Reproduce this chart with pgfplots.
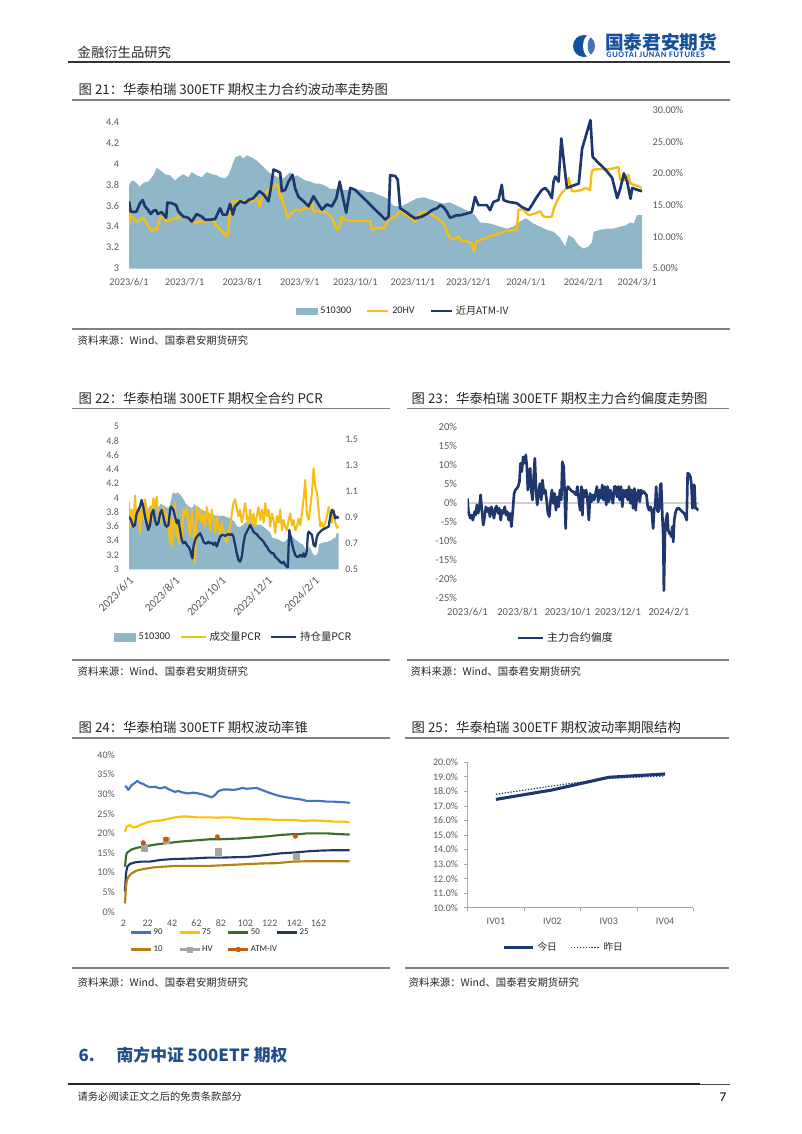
\documentclass[border=0pt]{standalone}
\usepackage{fontspec}
\setmainfont{Carlito}
\newfontfamily\cjk{Noto Sans CJK SC}
\usepackage{pgfplots}
\usepackage{pgfplotstable}
\pgfplotsset{compat=1.18}
\definecolor{areac}{RGB}{143,183,200}
\definecolor{yel}{RGB}{246,190,20}
\definecolor{navy}{RGB}{30,55,110}
\definecolor{tickc}{RGB}{89,89,89}
\definecolor{c90}{RGB}{68,114,196}
\definecolor{c75}{RGB}{255,192,0}
\definecolor{c50}{RGB}{56,110,40}
\definecolor{c25}{RGB}{31,56,100}
\definecolor{c10}{RGB}{180,130,20}
\definecolor{chv}{RGB}{165,165,165}
\definecolor{catm}{RGB}{197,90,17}
\definecolor{logob}{RGB}{20,80,160}
\definecolor{secb}{RGB}{31,78,140}
\definecolor{rulec}{RGB}{128,128,128}

\pgfplotstableread{
day price
0 3.79
1.4 3.84
3.2 3.83
5.9 3.78
7.7 3.82
10.4 3.83
13.1 3.89
14.9 3.96
16.7 3.94
19.4 3.90
22.1 3.89
24.8 3.84
26.6 3.87
29.3 3.90
32 3.87
33.8 3.92
36.5 3.89
39.2 3.87
41.9 3.92
44.6 3.90
47.3 3.89
49.1 3.87
51.8 3.86
53.6 3.89
55.4 3.97
57.2 4.06
59.9 4.08
61.7 4.05
63.5 4.08
66.2 4.06
68.9 4.03
70.7 4.00
72.5 3.97
75.2 3.92
77.9 3.89
80.6 3.87
83.3 3.86
85.1 3.89
86.9 3.92
88.7 3.87
90.5 3.89
92.3 3.87
95 3.84
97.7 3.83
100.4 3.81
103.1 3.81
105.8 3.79
108.5 3.76
112.1 3.76
115.7 3.75
119.3 3.75
122.9 3.75
125.6 3.75
128.3 3.73
131 3.73
133.7 3.71
136.4 3.69
139.1 3.67
140.9 3.63
142.7 3.60
146.3 3.59
149.9 3.62
155.2 3.67
158.8 3.68
162.3 3.66
165.9 3.64
169.5 3.62
173.1 3.63
176.7 3.60
180.3 3.57
183.8 3.54
186.5 3.51
189.2 3.44
194.6 3.43
200 3.40
203.6 3.38
207.2 3.40
209.9 3.44
214 3.48
218 3.43
221.7 3.40
225.3 3.37
228.9 3.35
232.5 3.29
235.2 3.21
237 3.32
239.7 3.29
242.4 3.22
245.1 3.19
247.8 3.21
249.6 3.25
250.5 3.35
254.1 3.37
257.7 3.38
261.3 3.38
264.9 3.40
267.6 3.41
270.3 3.44
272.1 3.43
273.9 3.51
276.6 3.51
}\areadata

\pgfplotsset{
  pagebase/.style={
    scale only axis, anchor=south west,
    axis line style={draw=none}, major tick length=0pt,
    tick label style={text=tickc},
    /pgf/number format/assume math mode=true,
    legend style={draw=none, fill=none, text=black!85},
    legend image code/.code={\draw[##1,line cap=butt] (0pt,0pt) -- (16pt,0pt);},
  }
}

\begin{document}
\begin{tikzpicture}
\begin{scope}[x=0.75pt,y=-0.75pt]
\coordinate (c21) at (129,268.5);
\coordinate (c22) at (129,569.3);
\coordinate (c23) at (467.5,598.3);
\coordinate (c24) at (123.3,911.7);
\coordinate (c25) at (467.7,907.7);

% header
\node[anchor=west, font=\cjk\fontsize{10}{12}\selectfont, text=black!85] at (73,52) {金融衍生品研究};
\draw[line width=1.1pt, black!80] (68,62) -- (730,62);
\begin{scope}
\clip (584,46) circle (11);
\fill[logob] (584,46) circle (11);
\fill[white] (590,46) ellipse (7 and 11.5);
\fill[logob!80] (591.5,46) ellipse (3.8 and 8.5);
\end{scope}
\node[anchor=west, font=\cjk\bfseries\fontsize{14}{16}\selectfont, text=logob, inner sep=0pt] at (605,42) {国泰君安期货};
\node[anchor=west, font=\bfseries\fontsize{6.3}{7}\selectfont, text=logob, inner sep=0pt] at (606,55) {\addfontfeatures{LetterSpace=8}GUOTAI JUNAN FUTURES};

% captions and rules
\node[anchor=west, font=\cjk\fontsize{10}{12}\selectfont, text=black!85] at (74,89) {图 21：华泰柏瑞 300ETF 期权主力合约波动率走势图};
\draw[line width=1.1pt, rulec] (72,100) -- (730,100);
\draw[line width=0.9pt, rulec] (72,329) -- (730,329);
\node[anchor=west, font=\cjk\fontsize{7.8}{9}\selectfont, text=black!85] at (73,341) {资料来源：Wind、国泰君安期货研究};

\node[anchor=west, font=\cjk\fontsize{10}{12}\selectfont, text=black!85] at (74,398) {图 22：华泰柏瑞 300ETF 期权全合约 PCR};
\node[anchor=west, font=\cjk\fontsize{10}{12}\selectfont, text=black!85] at (407,398) {图 23：华泰柏瑞 300ETF 期权主力合约偏度走势图};
\draw[line width=1.1pt, rulec] (72,408.5) -- (390,408.5);
\draw[line width=1.1pt, rulec] (407,408.5) -- (729,408.5);
\draw[line width=0.9pt, rulec] (72,660) -- (390,660);
\draw[line width=0.9pt, rulec] (407,660) -- (729,660);
\node[anchor=west, font=\cjk\fontsize{7.8}{9}\selectfont, text=black!85] at (73,672) {资料来源：Wind、国泰君安期货研究};
\node[anchor=west, font=\cjk\fontsize{7.8}{9}\selectfont, text=black!85] at (406,672) {资料来源：Wind、国泰君安期货研究};

\node[anchor=west, font=\cjk\fontsize{10}{12}\selectfont, text=black!85] at (74,727) {图 24：华泰柏瑞 300ETF 期权波动率锥};
\node[anchor=west, font=\cjk\fontsize{10}{12}\selectfont, text=black!85] at (407,727) {图 25：华泰柏瑞 300ETF 期权波动率期限结构};
\draw[line width=1.1pt, rulec] (72,738) -- (390,738);
\draw[line width=1.1pt, rulec] (405,738) -- (729,738);
\draw[line width=0.9pt, rulec] (72,968) -- (390,968);
\draw[line width=0.9pt, rulec] (405,968) -- (729,968);
\node[anchor=west, font=\cjk\fontsize{7.8}{9}\selectfont, text=black!85] at (73,983) {资料来源：Wind、国泰君安期货研究};
\node[anchor=west, font=\cjk\fontsize{7.8}{9}\selectfont, text=black!85] at (404,983) {资料来源：Wind、国泰君安期货研究};

% section and footer
\node[anchor=west, font=\cjk\bfseries\fontsize{12.6}{15}\selectfont, text=secb] at (74,1055) {6.\hspace{1.3em}南方中证 500ETF 期权};
\draw[line width=1.4pt, black!85] (68,1084) -- (700,1084);
\draw[line width=0.6pt, black!70] (700,1084) -- (730,1084);
\node[anchor=west, font=\cjk\fontsize{7.7}{9}\selectfont, text=black!85] at (73,1097) {请务必阅读正文之后的免责条款部分};
\node[anchor=east, font=\fontsize{10}{12}\selectfont] at (731,1097) {7};
\end{scope}

% ===== Chart 21 =====
\begin{axis}[pagebase, at={(c21)}, width=384.75pt, height=118.875pt,
  xmin=0, xmax=276.6, ymin=3, ymax=4.513,
  xtick={0,30,61,92,122,153,183,214,245,274},
  xticklabels={2023/6/1,2023/7/1,2023/8/1,2023/9/1,2023/10/1,2023/11/1,2023/12/1,2024/1/1,2024/2/1,2024/3/1},
  ytick={3,3.2,3.4,3.6,3.8,4,4.2,4.4},
  yticklabels={3,3.2,3.4,3.6,3.8,4,4.2,4.4},
  tick label style={font=\fontsize{7.7}{9}\selectfont},
  yticklabel style={inner sep=0pt, xshift=-7.3pt},
  xticklabel style={inner sep=0pt, yshift=-7.3pt}]
\addplot[fill=areac, draw=none] table[x=day,y=price] {\areadata} \closedcycle;
\end{axis}
\begin{axis}[pagebase, at={(c21)}, width=384.75pt, height=118.875pt,
  xmin=0, xmax=276.6, ymin=5, ymax=30, axis y line*=right, hide x axis,
  ytick={5,10,15,20,25,30},
  yticklabels={5.00\%,10.00\%,15.00\%,20.00\%,25.00\%,30.00\%},
  tick label style={font=\fontsize{7.7}{9}\selectfont},
  yticklabel style={inner sep=0pt, xshift=7.7pt},
  legend columns=3,
  legend style={at={(0.535,-0.268)}, anchor=center, font=\fontsize{7.6}{9}\selectfont,
    /tikz/every even column/.append style={column sep=9pt}},
  line join=round]
\addlegendimage{legend image code/.code={\fill[areac] (0pt,-2.3pt) rectangle (16pt,2.3pt);}}
\addlegendentry{510300}
\addplot[yel, line width=1.75pt] coordinates {(0,11.7)(0.9,13.5)(2.3,13.0)(4.1,12.4)(5.9,12.7)(7.7,13.0)(8.6,12.6)(10.4,11.7)(12.2,10.9)(14,11.3)(14.9,11.0)(16.7,13.0)(18.5,13.2)(20.3,12.4)(23,12.7)(25.7,13.0)(29.3,13.2)(32,13.0)(33.8,12.4)(36.5,12.2)(38.3,12.4)(40.1,12.4)(42.8,12.5)(45.5,12.4)(47.3,11.7)(50,10.9)(52.7,10.1)(53.6,10.9)(54.5,14.5)(56.3,15.7)(58.1,15.6)(60.8,15.6)(63.5,15.6)(66.2,15.6)(68.9,16.1)(70.4,14.8)(71.6,16.1)(73.4,16.7)(75.2,17.4)(77.9,17.9)(79.7,18.3)(80.6,17.7)(81.5,16.1)(82.4,16.6)(83.3,15.0)(84.2,14.5)(85.5,13.0)(86.9,13.5)(88.7,14.0)(90.5,14.3)(92.3,14.0)(95,14.6)(96.8,14.5)(98.6,15.3)(99.5,14.0)(101.3,14.0)(104.9,14.0)(106.7,13.8)(109.4,13.0)(112.1,11.1)(113.6,11.6)(114.8,13.2)(116.6,12.7)(119.3,12.5)(124.7,12.5)(130.1,12.5)(131,11.1)(132.8,11.4)(135.5,11.4)(138.2,11.5)(140,13.0)(142.7,13.0)(144.5,13.5)(146.2,14.0)(148.9,13.5)(151.6,13.1)(154.3,12.4)(157,13.8)(159.6,14.0)(162.3,13.6)(165.9,13.0)(169.5,12.2)(171.3,10.9)(173.1,9.8)(175.8,9.6)(177.6,10.1)(179.4,9.3)(182.1,9.3)(184.8,9.0)(186,7.7)(187.5,9.3)(190.2,9.6)(192.9,9.8)(194.6,10.1)(197.4,10.3)(200,10.6)(203.7,10.9)(206.4,11.0)(209.1,11.1)(210,14.3)(212.7,14.3)(215.4,13.4)(218.1,13.6)(221.7,14.0)(223.5,13.2)(226.2,13.1)(228,13.2)(228.9,14.3)(230.7,15.6)(232.5,16.6)(234.3,17.2)(236.1,17.7)(237,19.3)(238.8,17.2)(241.4,17.2)(244.1,17.4)(245.9,17.7)(248.6,17.4)(249.5,20.3)(250.4,20.6)(254,20.7)(257.6,20.6)(261.2,20.8)(263.9,21.0)(264.8,19.0)(266.6,18.8)(269.3,19.8)(270.2,18.5)(272,18.2)(274.7,18.0)(276.5,17.7)};
\addlegendentry{20HV}
\addplot[navy, line width=2pt] coordinates {(0,15.6)(0.9,14.0)(2.3,13.9)(4.1,14.0)(5.9,15.3)(7.4,15.8)(8.6,14.8)(10.4,14.2)(11.7,13.6)(13.1,14.1)(14.6,14.2)(15.5,13.6)(17.6,13.9)(20,13.0)(20.7,15.4)(23,15.3)(25.4,15.0)(26.6,14.0)(29.3,13.2)(32,13.0)(33.8,12.4)(36.5,13.6)(39.2,13.2)(41,12.7)(43.7,12.7)(46.4,12.8)(49.1,14.5)(50.6,13.5)(52.7,13.5)(54.5,15.2)(56,13.5)(57.2,14.8)(59.9,15.6)(62.6,15.3)(64.4,15.8)(67.1,16.1)(70.2,17.2)(72.5,16.7)(75.2,15.6)(76.5,17.7)(77.9,20.6)(79.7,20.4)(81.5,20.1)(82.4,17.2)(84.2,17.4)(86,18.7)(88.2,19.8)(89.6,17.6)(91.4,16.3)(94.1,15.6)(96.8,14.8)(99.5,16.4)(102.2,15.1)(104,14.3)(106.7,15.1)(109.4,14.8)(111.8,16.1)(113.6,18.7)(115.4,16.1)(117.1,13.8)(119.3,17.7)(122,17.4)(124.7,16.6)(128.3,15.6)(131.9,14.5)(135.5,13.5)(138.2,12.7)(140,13.2)(140.8,19.7)(143.5,19.6)(144.9,19.0)(146.2,14.5)(148.9,14.0)(151.6,13.4)(154.3,12.9)(157.9,13.2)(160.6,13.6)(163.3,14.2)(166,14.5)(167.7,15.0)(169.5,14.7)(171.3,14.0)(173.1,13.0)(174.9,13.2)(176.7,13.4)(178.5,13.4)(181.2,13.6)(184.8,13.9)(186.6,16.3)(188.4,15.0)(190.2,15.0)(192.9,15.0)(194.7,14.2)(196.5,15.5)(199.2,15.8)(201,18.2)(201.9,15.8)(204.6,15.5)(209.1,15.3)(211.8,14.7)(215.4,14.2)(217.2,15.0)(219.9,16.3)(222.6,17.4)(224.4,17.7)(226.2,17.1)(228,16.1)(228.9,18.7)(229.8,19.5)(231.6,18.7)(233.1,25.5)(234.3,22.3)(236.1,17.7)(237.9,17.9)(240.7,18.2)(242.5,18.4)(244.3,23.9)(246.1,25.7)(248.8,28.4)(250,22.6)(253.3,21.6)(256.9,20.6)(260.5,19.3)(263.2,16.1)(265,17.7)(266.8,20.0)(268.6,18.7)(270.4,16.0)(271.3,17.7)(274,17.4)(276.7,17.2)};
\addlegendentry{\cjk 近月ATM-IV}
\end{axis}

% ===== Chart 22 =====
\begin{axis}[pagebase, at={(c22)}, width=157.5pt, height=106.95pt,
  xmin=0, xmax=277, ymin=3, ymax=5,
  xtick={0,61,122,183,245},
  xticklabels={2023/6/1,2023/8/1,2023/10/1,2023/12/1,2024/2/1},
  ytick={3,3.2,3.4,3.6,3.8,4,4.2,4.4,4.6,4.8,5},
  yticklabels={3,3.2,3.4,3.6,3.8,4,4.2,4.4,4.6,4.8,5},
  tick label style={font=\fontsize{7.5}{9}\selectfont},
  yticklabel style={inner sep=0pt, xshift=-7.3pt},
  xticklabel style={font=\fontsize{8.6}{10}\selectfont, inner sep=0pt, yshift=-7pt, xshift=2pt, rotate=45, anchor=east}]
\addplot[fill=areac, draw=none] table[x=day,y=price] {\areadata} \closedcycle;
\end{axis}
\begin{axis}[pagebase, at={(c22)}, width=157.5pt, height=106.95pt,
  xmin=0, xmax=277, ymin=0.5, ymax=1.6, axis y line*=right, hide x axis,
  ytick={0.5,0.7,0.9,1.1,1.3,1.5},
  yticklabels={0.5,0.7,0.9,1.1,1.3,1.5},
  tick label style={font=\fontsize{7.5}{9}\selectfont},
  yticklabel style={inner sep=0pt, xshift=4.5pt},
  legend columns=3,
  legend style={at={(0.50,-0.475)}, anchor=center, font=\fontsize{7.8}{9}\selectfont,
    /tikz/every even column/.append style={column sep=5pt}},
  legend image code/.code={\draw[#1,line cap=butt] (0pt,0pt) -- (19pt,0pt);},
  line join=round]
\addlegendimage{legend image code/.code={\fill[areac] (0pt,-2.8pt) rectangle (16pt,2.8pt);}}
\addlegendentry{510300}
\addplot[yel, line width=1.5pt] coordinates {(0,1.02)(1.3,0.83)(3.5,0.96)(5.7,0.84)(7.9,1.07)(10.1,0.86)(12.3,0.96)(14.5,0.78)(16.7,0.98)(18.9,0.88)(21.1,1.04)(23.3,0.96)(25.5,0.83)(27.7,0.98)(29.9,0.88)(32.1,1.05)(34.3,0.98)(36.5,1.06)(38.7,0.91)(41,0.86)(43.2,0.93)(45.4,0.98)(47.6,0.88)(49.8,0.93)(52,0.83)(54.2,0.70)(55.5,0.91)(57.2,0.68)(59,0.88)(60.8,1.01)(62.5,0.75)(64.3,0.83)(66.1,0.70)(67.8,0.86)(69.6,0.75)(71.8,0.96)(74,0.91)(76.2,0.98)(78.4,0.86)(80.6,0.75)(82.8,0.96)(85,0.83)(87.2,0.55)(88.5,0.88)(89.8,0.98)(91.6,0.88)(93.8,0.96)(96,0.86)(98.2,0.93)(100.4,0.83)(102.6,0.98)(104.8,0.91)(107,0.80)(109.2,0.96)(111.4,0.88)(113.6,0.78)(115.8,0.91)(118,0.83)(120.2,0.75)(122.4,0.86)(124.6,0.80)(126.8,0.75)(129,0.70)(131.2,0.78)(133.4,0.83)(135.6,0.93)(137.8,1.01)(140,1.04)(142.2,0.97)(144.4,0.91)(146.6,0.96)(148.8,0.86)(151,0.93)(153.2,1.01)(155.4,0.91)(157.6,0.83)(159.8,0.96)(162,0.86)(164.2,0.93)(166.4,0.83)(168.6,0.91)(170.8,0.98)(173.1,0.88)(175.3,0.96)(177.5,0.86)(179.7,1.01)(181.9,0.91)(184.1,0.96)(186.3,0.83)(188.5,0.93)(190.7,0.88)(192.9,0.78)(195.1,0.91)(197.3,0.86)(199.5,0.96)(201.7,0.80)(203.9,0.88)(206.1,0.83)(208.3,0.80)(210.5,0.88)(212.7,0.93)(214.9,0.84)(217.1,0.88)(219.3,0.80)(221.5,0.83)(223.7,0.89)(225.9,0.84)(228.1,0.93)(230.3,1.04)(232.5,1.19)(234.7,0.93)(236.9,0.88)(239.1,0.98)(241.3,1.09)(243.5,1.28)(245.7,1.14)(247.9,1.09)(250.1,0.96)(252.3,0.83)(254.5,0.86)(256.7,0.82)(258.9,0.86)(261.1,0.91)(263.3,0.98)(265.5,0.91)(267.7,0.86)(269.9,0.96)(272.1,0.86)(274.3,0.82)(276.5,0.83)};
\addlegendentry{\cjk 成交量PCR}
\addplot[navy, line width=1.7pt] coordinates {(0,0.906)(2.6,0.88)(5.7,0.829)(7.9,0.842)(10.1,0.932)(12.3,0.958)(14.5,0.983)(16.7,1.035)(18.9,0.983)(21.1,0.906)(23.3,0.855)(25.5,0.803)(27.7,0.842)(29.9,0.932)(32.1,0.958)(34.3,0.88)(36.5,0.842)(38.7,0.855)(41,0.932)(43.2,0.958)(45.4,0.906)(47.6,0.842)(49.8,0.829)(52,0.842)(54.2,0.958)(55.5,0.983)(58.6,0.958)(60.8,0.906)(63,0.855)(65.2,0.88)(67.4,0.803)(69.6,0.726)(71.8,0.70)(74,0.713)(76.2,0.688)(78.4,0.675)(80.6,0.649)(82.8,0.597)(83.7,0.585)(85,0.675)(87.2,0.726)(89.4,0.752)(91.6,0.765)(93.8,0.778)(96,0.752)(98.2,0.713)(100.4,0.70)(102.6,0.70)(104.8,0.713)(107,0.70)(109.2,0.706)(111.4,0.688)(113.6,0.706)(115.8,0.675)(118,0.713)(120.2,0.752)(122.4,0.765)(124.6,0.765)(126.8,0.757)(129,0.765)(131.2,0.772)(133.4,0.765)(135.6,0.772)(137.8,0.752)(140,0.688)(142.2,0.623)(144.4,0.572)(146.6,0.559)(148.8,0.597)(151,0.70)(153.2,0.765)(155.4,0.79)(157.6,0.816)(159.8,0.842)(162,0.816)(164.2,0.79)(166.4,0.778)(168.6,0.772)(170.8,0.752)(173.1,0.739)(175.3,0.726)(177.5,0.713)(179.7,0.688)(181.9,0.675)(184.1,0.649)(186.3,0.636)(188.5,0.623)(190.7,0.623)(192.9,0.597)(195.1,0.585)(197.3,0.572)(199.5,0.559)(201.7,0.546)(203.9,0.559)(206.1,0.533)(208.3,0.52)(209.6,0.515)(210.5,0.675)(211.4,0.803)(212.7,0.765)(214.9,0.70)(217.1,0.649)(219.3,0.61)(221.5,0.597)(223.7,0.597)(225.9,0.61)(228.1,0.597)(230.3,0.623)(231.6,0.597)(233.4,0.61)(234.7,0.649)(236,0.778)(237.3,0.79)(239.1,0.778)(241.3,0.765)(243.5,0.688)(245.7,0.675)(247.9,0.752)(250.1,0.778)(252.3,0.79)(254.5,0.803)(258.9,0.816)(263.3,0.829)(265.5,0.906)(267.7,0.958)(269.9,0.945)(272.1,0.893)(274.3,0.906)(276.5,0.893)};
\addlegendentry{\cjk 持仓量PCR}
\end{axis}

% ===== Chart 23 =====
\begin{axis}[pagebase, at={(c23)}, width=173.25pt, height=128.7pt,
  xmin=0, xmax=281, ymin=-25, ymax=20,
  xtick={0,61,122,183,245},
  xticklabels={2023/6/1,2023/8/1,2023/10/1,2023/12/1,2024/2/1},
  ytick={-25,-20,-15,-10,-5,0,5,10,15,20},
  yticklabels={-25\%,-20\%,-15\%,-10\%,-5\%,0\%,5\%,10\%,15\%,20\%},
  extra y ticks={0}, extra y tick labels={},
  extra y tick style={grid=major, major grid style={draw=black!18, line width=0.8pt}},
  tick label style={font=\fontsize{8}{9}\selectfont},
  yticklabel style={inner sep=0pt, xshift=-7.6pt},
  xticklabel style={inner sep=0pt, yshift=-6.8pt},
  legend style={at={(0.426,-0.231)}, anchor=center, font=\cjk\fontsize{8.2}{9}\selectfont},
  legend image code/.code={\draw[#1,line cap=butt] (0pt,0pt) -- (19pt,0pt);},
  line join=round]
\addplot[navy, line width=2pt] coordinates {(0,1.2)(1.2,-2.3)(3.3,-4.0)(4.9,-3.2)(6.5,-4.5)(8.6,-2.3)(9.8,-3.2)(11.4,-0.5)(13,-2.7)(14.7,-0.8)(15.9,2.1)(17.5,-1.9)(19.2,-5.8)(20.8,-3.6)(22.4,-1.0)(24.1,-2.3)(25.7,-1.4)(27.3,-3.6)(28.9,-1.0)(30.6,-2.3)(32.2,-4.0)(33.8,-1.4)(35.5,-0.8)(37.1,-2.7)(38.7,-1.4)(40.4,-4.5)(42,-1.9)(43.6,-2.7)(45.3,-1.0)(46.9,-3.2)(48.5,-2.3)(50.1,-4.5)(51.8,-2.7)(53.4,-6.2)(55,-2.3)(56.7,2.5)(58.3,3.4)(59.9,3.8)(61.6,4.3)(63.2,5.6)(64.4,10.4)(66,8.2)(67.7,12.1)(69.3,10.4)(70.9,12.6)(72.2,9.5)(73.4,3.4)(74.6,6.0)(76.2,9.1)(77.5,3.4)(79.1,0.8)(80.3,6.0)(81.9,11.7)(83.6,2.5)(84.8,-0.5)(86.4,2.5)(88.1,5.1)(89.7,0.8)(91.3,6.0)(92.9,2.5)(94.6,3.4)(96.2,0.8)(97.8,-2.7)(99.5,-3.6)(101.1,0.8)(102.7,3.4)(104.4,-0.1)(106,2.5)(107.6,-1.9)(109.3,1.6)(110.9,-1.0)(112.5,3.4)(114.1,0.8)(115.4,10.8)(117,9.5)(118.2,2.5)(119.4,-6.7)(120.7,3.4)(122.3,4.3)(123.9,3.8)(125.6,3.4)(127.2,3.0)(128.8,3.0)(130.5,2.5)(132.1,2.1)(133.7,4.3)(135.3,1.2)(137,-1.9)(138.6,4.3)(139.8,-3.2)(141.1,3.4)(142.7,1.6)(144.3,3.4)(145.9,0.8)(147.6,-4.5)(149.2,2.5)(150.8,0.3)(152.5,2.1)(154.1,0.8)(155.7,2.5)(157.4,4.3)(159,0.3)(160.6,3.4)(162.3,1.2)(163.9,4.7)(165.5,0.8)(167.1,4.3)(168.8,-0.5)(170.4,4.3)(172,0.3)(173.7,3.4)(175.3,2.1)(176.9,-0.1)(178.6,4.3)(180.2,4.3)(181.8,1.6)(183.4,4.3)(185.1,0.8)(186.7,4.3)(188.3,-1.0)(190,3.4)(191.6,1.6)(193.2,3.4)(194.9,0.8)(196.5,4.3)(198.1,-0.1)(199.8,3.4)(201.4,-1.4)(203,3.8)(204.6,-1.9)(206.3,2.5)(207.9,3.4)(209.5,0.3)(211.2,3.4)(212.8,2.5)(214.4,3.0)(216.1,2.5)(217.7,2.1)(219.3,-1.0)(221,-1.9)(222.6,-1.0)(224.2,-2.3)(225.8,-6.7)(227.1,-1.4)(228.3,-1.0)(229.5,4.3)(230.7,-1.9)(232,-2.3)(233.2,-1.4)(234.4,4.7)(235.6,5.1)(236.9,-2.7)(238.1,-8.8)(238.9,-23.0)(240.1,-8.8)(241.3,-4.5)(243,-2.7)(244.2,-7.1)(245.4,-8.0)(246.6,-8.0)(247.9,-8.8)(249.1,-6.2)(250.3,-10.2)(251.5,-4.5)(252.8,-2.7)(254,-1.9)(255.2,-1.4)(257.2,-1.4)(259.3,-1.9)(261.3,-2.3)(263.4,-2.7)(265.4,-3.6)(266.6,-4.5)(267.8,7.8)(269.5,7.6)(271.1,6.9)(272.3,5.1)(273.6,-1.4)(274.8,4.7)(276,4.7)(277.2,-1.4)(278.8,-1.4)(280.9,-2.0)};
\addlegendentry{主力合约偏度}
\end{axis}

% ===== Chart 24 =====
\begin{axis}[pagebase, at={(c24)}, width=170.2pt, height=117.5pt,
  xmin=2, xmax=188, ymin=0, ymax=40,
  xtick={2,22,42,62,82,102,122,142,162},
  xticklabels={2,22,42,62,82,102,122,142,162},
  ytick={0,5,10,15,20,25,30,35,40},
  yticklabels={0\%,5\%,10\%,15\%,20\%,25\%,30\%,35\%,40\%},
  tick label style={font=\fontsize{7.5}{9}\selectfont},
  yticklabel style={inner sep=0pt, xshift=-6.2pt},
  xticklabel style={inner sep=0pt, yshift=-6pt},
  legend columns=4,
  legend cell align=left,
  legend style={at={(0.01,-0.085)}, anchor=north west, font=\fontsize{6.6}{8}\selectfont,
    /tikz/every even column/.append style={column sep=0pt}, row sep=6pt,
    nodes={inner xsep=1.2pt, inner ysep=0.5pt}},
  legend image code/.code={\draw[#1,line cap=butt] (0pt,0pt) -- (15pt,0pt);},
  line join=round]
\addplot[c90, line width=1.6pt] coordinates {(3.4,32.1)(4.7,31.8)(6.1,31.1)(8.8,32.3)(11.6,32.9)(13.5,33.4)(15.7,32.9)(18.4,32.6)(21.1,32.1)(23.9,31.8)(28,31.9)(32.1,31.5)(36.2,31.8)(40.3,31.1)(44.4,30.6)(47.1,30.8)(51.2,30.4)(55.3,30.2)(59.4,30.4)(63.5,30.2)(67.6,29.9)(71.7,29.5)(74.5,29.2)(77.2,29.8)(80,30.8)(84.1,31.2)(88.2,31.2)(92.3,31.1)(96.4,31.3)(99.1,31.6)(103.2,31.4)(107.3,31.5)(111.4,31.6)(115.5,31.1)(119.6,30.6)(125.1,30.0)(130.6,29.5)(136,29.2)(141.5,28.9)(147,28.7)(152.4,28.3)(157.9,28.3)(163.4,28.3)(168.8,28.1)(174.3,28.1)(179.8,28.0)(185.3,27.9)(187.5,27.7)};
\addlegendentry{\makebox[17.5pt][l]{90}}
\addplot[c75, line width=1.6pt] coordinates {(3.4,20.4)(4.7,21.7)(7.5,22.1)(10.2,21.5)(12.9,21.7)(15.7,22.1)(19.8,22.6)(23.9,23.0)(29.4,23.2)(34.8,23.4)(40.3,23.8)(44.4,24.1)(49.9,24.3)(55.3,24.3)(62.2,24.1)(67.6,24.1)(73.1,24.1)(78.6,24.0)(84.1,24.1)(89.5,24.1)(95,23.9)(100.5,23.7)(108.7,23.6)(119.6,23.6)(130.6,23.4)(141.5,23.4)(149.7,23.2)(157.9,23.3)(166.1,23.2)(174.3,23.0)(182.5,23.0)(187.5,22.8)};
\addlegendentry{\makebox[17.5pt][l]{75}}
\addplot[c50, line width=1.6pt] coordinates {(3.4,11.5)(4.2,14.0)(4.7,14.9)(6.1,15.3)(8.8,15.9)(12.9,16.3)(18.4,16.6)(23.9,16.9)(29.4,17.2)(34.8,17.4)(40.3,17.6)(48.5,17.9)(56.7,18.1)(64.9,18.3)(73.1,18.5)(81.3,18.5)(89.5,18.6)(97.7,18.7)(105.9,18.9)(114.1,19.1)(122.4,19.3)(130.6,19.6)(141.5,19.8)(147,19.8)(152.4,20.0)(157.9,20.0)(168.8,20.0)(179.8,19.8)(187.5,19.7)};
\addlegendentry{\makebox[17.5pt][l]{50}}
\addplot[c25, line width=1.6pt] coordinates {(3.4,5.1)(4.2,9.8)(5.3,11.5)(7.5,12.2)(11.6,12.6)(17,12.8)(23.9,12.8)(32.1,13.2)(40.3,13.4)(48.5,13.5)(59.4,13.6)(70.4,13.8)(81.3,13.8)(92.3,13.9)(103.2,14.0)(114.1,14.3)(122.4,14.6)(130.6,14.9)(141.5,15.1)(152.4,15.4)(163.4,15.6)(174.3,15.7)(187.5,15.7)};
\addlegendentry{25}
\addplot[c10, line width=1.6pt] coordinates {(3.4,2.1)(3.9,5.1)(4.7,7.7)(6.1,8.9)(8.8,9.8)(12.9,10.5)(18.4,10.9)(26.6,11.3)(34.8,11.5)(45.8,11.7)(59.4,11.7)(73.1,11.7)(86.8,11.9)(100.5,12.1)(114.1,12.3)(127.8,12.4)(141.5,12.8)(155.2,12.9)(168.8,12.9)(187.5,12.9)};
\addlegendentry{\makebox[17.5pt][l]{10}}
\addplot[forget plot, only marks, mark=square*, mark size=2.4pt, chv, mark options={draw=chv}] coordinates {(19,16.3)(37,18.3)(80,15.3)(143.7,14.2)};
\addplot[forget plot, only marks, mark=*, mark size=1.7pt, catm] coordinates {(18.4,17.6)(37,18.5)(79.1,19.1)(143.1,19.3)};
\addlegendimage{legend image code/.code={\draw[chv, line width=1.6pt] (0pt,0pt) -- (15pt,0pt); \fill[chv] (5.5pt,-2pt) rectangle (9.5pt,2pt);}}
\addlegendentry{\makebox[17.5pt][l]{HV}}
\addlegendimage{legend image code/.code={\draw[catm, line width=1.6pt] (0pt,0pt) -- (15pt,0pt); \fill[catm] (7.5pt,0pt) circle (1.8pt);}}
\addlegendentry{\makebox[17.5pt][l]{ATM-IV}}
\end{axis}

% ===== Chart 25 =====
\begin{axis}[pagebase, at={(c25)}, width=169.2pt, height=109.05pt,
  xmin=0.5, xmax=4.5, ymin=10, ymax=20,
  axis x line*=bottom, axis y line*=left,
  axis line style={draw=black!35, line width=0.6pt, -},
  tick align=outside, major tick length=2.6pt,
  tick style={draw=black!35, line width=0.6pt},
  xtick={0.5,1.5,2.5,3.5,4.5}, xticklabels={},
  extra x ticks={1,2,3,4}, extra x tick labels={IV01,IV02,IV03,IV04},
  extra x tick style={major tick length=0pt, xticklabel style={inner sep=0pt, yshift=-7.5pt}},
  ytick={10,11,12,13,14,15,16,17,18,19,20},
  yticklabels={10.0\%,11.0\%,12.0\%,13.0\%,14.0\%,15.0\%,16.0\%,17.0\%,18.0\%,19.0\%,20.0\%},
  tick label style={font=\fontsize{7.5}{9}\selectfont},
  yticklabel style={inner sep=0pt, xshift=-4.5pt},
  legend columns=2,
  legend style={at={(0.427,-0.272)}, anchor=center, font=\cjk\fontsize{7.3}{9}\selectfont,
    /tikz/every even column/.append style={column sep=8pt}},
  legend image code/.code={\draw[#1,line cap=butt] (0pt,0pt) -- (22pt,0pt);},
  line join=round]
\addplot[navy, line width=2.3pt] coordinates {(1,17.45)(2,18.1)(3,18.97)(4,19.2)};
\addlegendentry{今日}
\addplot[navy, line width=0.9pt, dash pattern=on 1pt off 1.2pt] coordinates {(1,17.8)(2,18.37)(3,18.9)(4,19.06)};
\addlegendentry{昨日}
\end{axis}

\pgfresetboundingbox
\path[use as bounding box] (0,0) rectangle (601.5pt,-850.5pt);
\end{tikzpicture}
\end{document}
